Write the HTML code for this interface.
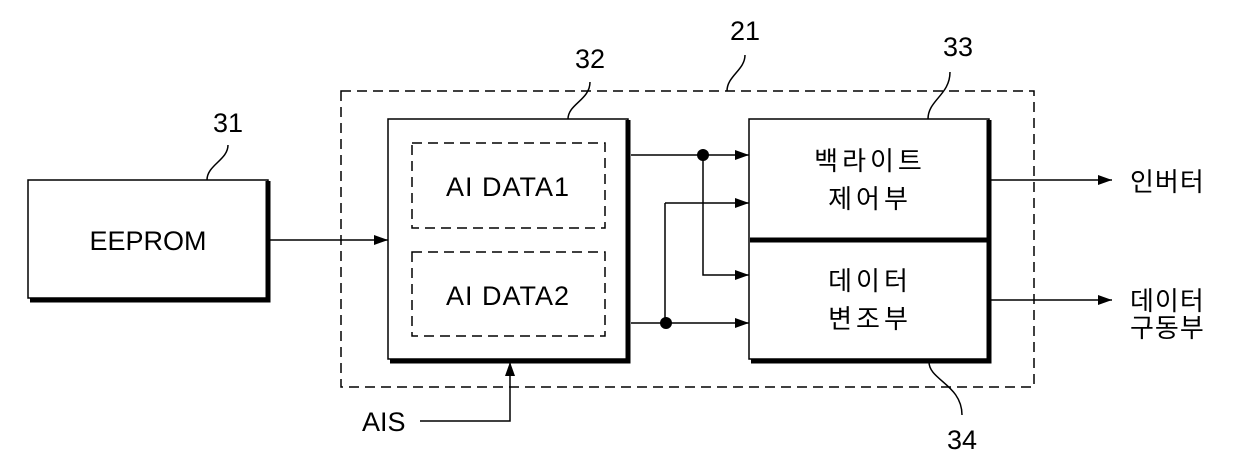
<!DOCTYPE html>
<html><head><meta charset="utf-8"><style>
body{margin:0;background:#fff}
svg text{font-family:"Liberation Sans","Noto Sans CJK KR",sans-serif;fill:#000}
</style></head><body>
<svg width="1240" height="468" viewBox="0 0 1240 468" xmlns="http://www.w3.org/2000/svg">
<defs><marker id="a" markerWidth="14" markerHeight="10" refX="14" refY="5" orient="auto" markerUnits="userSpaceOnUse"><path d="M0,0 L14,5 L0,10 z" fill="#000"/></marker></defs>
<g fill="none" stroke="#000">
<rect x="341" y="91" width="693" height="296" stroke-width="1.5" stroke-dasharray="10,6"/>
<rect x="412" y="143" width="193" height="85" stroke-width="1.5" stroke-dasharray="10,6"/>
<rect x="412" y="252" width="193" height="84" stroke-width="1.5" stroke-dasharray="10,6"/>
<rect x="28" y="180" width="240" height="118" stroke-width="1.5"/>
<path d="M268,181 V300 H30" stroke-width="5"/>
<rect x="388" y="119" width="240" height="240" stroke-width="1.5"/>
<path d="M628,120 V361 H390" stroke-width="5"/>
<rect x="749" y="119" width="240" height="240" stroke-width="1.5"/>
<path d="M989,120 V361 H751" stroke-width="5"/>
<path d="M750,240 H989" stroke-width="5"/>
<g stroke-width="1.5">
<path d="M270,240 H388" marker-end="url(#a)"/>
<path d="M631,155 H749" marker-end="url(#a)"/>
<path d="M665,203 H749" marker-end="url(#a)"/>
<path d="M631,323 H749" marker-end="url(#a)"/>
<path d="M703,155 V275 H749" marker-end="url(#a)"/>
<path d="M665,203 V323"/>
<path d="M991,180 H1112" marker-end="url(#a)"/>
<path d="M991,300 H1112" marker-end="url(#a)"/>
<path d="M420,421 H510 V362" marker-end="url(#a)"/>
<path d="M207,180 C207,165 228,160 228,145"/>
<path d="M568,119 C568,104 590,100 590,82"/>
<path d="M727,91 C727,76 745,70 745,55"/>
<path d="M928,119 C928,100 950,95 950,72"/>
<path d="M929,362 C929,380 962,385 962,415"/>
</g>
</g>
<circle cx="703" cy="155" r="6"/>
<circle cx="666" cy="323" r="6"/>
<g font-size="27">
<text x="148" y="250" text-anchor="middle">EEPROM</text>
<text x="508" y="196" text-anchor="middle" letter-spacing="1">AI DATA1</text>
<text x="508" y="305" text-anchor="middle" letter-spacing="1">AI DATA2</text>
<text x="362" y="431">AIS</text>
<text x="228" y="132" text-anchor="middle">31</text>
<text x="590" y="68" text-anchor="middle">32</text>
<text x="745" y="40" text-anchor="middle">21</text>
<text x="958" y="56" text-anchor="middle">33</text>
<text x="962" y="449" text-anchor="middle">34</text>
</g>
<g font-size="26" letter-spacing="4">
<text x="870" y="170" text-anchor="middle">백라이트</text>
<text x="870" y="208" text-anchor="middle">제어부</text>
<text x="870" y="290" text-anchor="middle">데이터</text>
<text x="870" y="328" text-anchor="middle">변조부</text>
</g>
<g font-size="26" letter-spacing="1">
<text x="1130" y="191">인버터</text>
<text x="1130" y="310">데이터</text>
<text x="1130" y="337">구동부</text>
</g>
</svg>
</body></html>
